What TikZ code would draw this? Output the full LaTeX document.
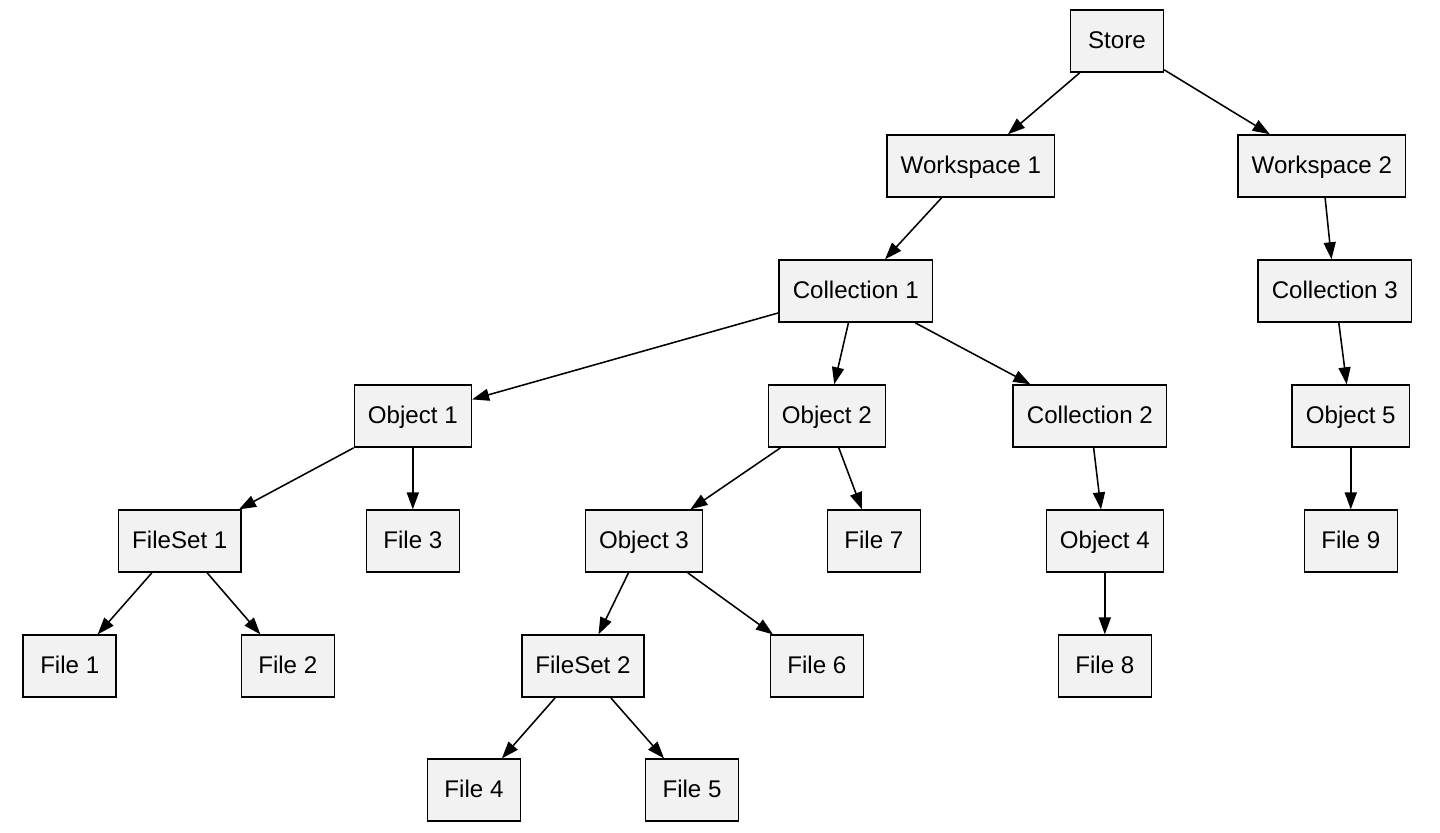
\documentclass[tikz,border=0pt]{standalone}
\usepackage{fontspec}
\setmainfont{Liberation Sans}
\usepackage{tikz}
\usetikzlibrary{arrows.meta, positioning}
\definecolor{boxfill}{HTML}{F2F2F2}
\tikzset{
    entity/.style={rectangle, draw, line width=0.9pt, fill=boxfill, align=center,
        minimum height=36pt, minimum width=54pt, inner xsep=7.92pt,
        text height=10pt, text depth=1pt, font=\fontsize{14}{17}\selectfont},
    arrow/.style={line width=0.9pt, -{Triangle[length=9.9pt, width=7pt]}}
}

\begin{document}
\begin{tikzpicture}[on grid, node distance=72.6pt]
    \useasboundingbox (-648.5pt, 23.8pt) rectangle (187.6pt, -459.3pt);

    % Store and workspaces
    \node (store) [entity] {Store};
    \node (ws1) [entity, below left=72.6pt and 84.8pt of store] {Workspace 1};
    \node (ws2) [entity, below right=72.6pt and 119pt of store] {Workspace 2};

    % Collections
    \node (coll1) [entity, below left=72.6pt and 66.8pt of ws1] {Collection 1};
    \node (coll3) [entity, below right=72.6pt and 7.5pt of ws2] {Collection 3};

    % Objects
    \node (obj1) [entity, below left=72.6pt and 257.2pt of coll1] {Object 1};
    \node (obj2) [entity, below left=72.6pt and 16.8pt of coll1] {Object 2};
    \node (coll2) [entity, below right=72.6pt and 135.9pt of coll1] {Collection 2};
    \node (obj5) [entity, below right=72.6pt and 9.3pt of coll3] {Object 5};

    % Fourth level
    \node (fs1) [entity, below left=72.6pt and 135.3pt of obj1] {FileSet 1};
    \node (file3) [entity, below=of obj1] {File 3};
    \node (obj3) [entity, below left=72.6pt and 106.2pt of obj2] {Object 3};
    \node (file7) [entity, below right=72.6pt and 27.3pt of obj2] {File 7};
    \node (obj4) [entity, below right=72.6pt and 8.7pt of coll2] {Object 4};
    \node (file9) [entity, below=of obj5] {File 9};

    % Fifth level
    \node (file1) [entity, below left=72.6pt and 63.9pt of fs1] {File 1};
    \node (file2) [entity, below right=72.6pt and 62.7pt of fs1] {File 2};
    \node (fs2) [entity, below left=72.6pt and 35.4pt of obj3] {FileSet 2};
    \node (file6) [entity, below right=72.6pt and 100.4pt of obj3] {File 6};
    \node (file8) [entity, below=of obj4] {File 8};

    % Files of FileSet 2
    \node (file4) [entity, below left=72pt and 63.3pt of fs2] {File 4};
    \node (file5) [entity, below right=72pt and 63.3pt of fs2] {File 5};

    % Edges
    \draw [arrow] (store) -- (ws1);
    \draw [arrow] (store) -- (ws2);
    \draw [arrow] (ws1) -- (coll1);
    \draw [arrow] (ws2) -- (coll3);
    \draw [arrow] (coll1) -- (obj1);
    \draw [arrow] (coll1) -- (obj2);
    \draw [arrow] (coll1) -- (coll2);
    \draw [arrow] (coll3) -- (obj5);
    \draw [arrow] (obj1) -- (fs1);
    \draw [arrow] (obj1) -- (file3);
    \draw [arrow] (obj2) -- (obj3);
    \draw [arrow] (obj2) -- (file7);
    \draw [arrow] (coll2) -- (obj4);
    \draw [arrow] (obj5) -- (file9);
    \draw [arrow] (fs1) -- (file1);
    \draw [arrow] (fs1) -- (file2);
    \draw [arrow] (obj3) -- (fs2);
    \draw [arrow] (obj3) -- (file6);
    \draw [arrow] (obj4) -- (file8);
    \draw [arrow] (fs2) -- (file4);
    \draw [arrow] (fs2) -- (file5);

\end{tikzpicture}
\end{document}
